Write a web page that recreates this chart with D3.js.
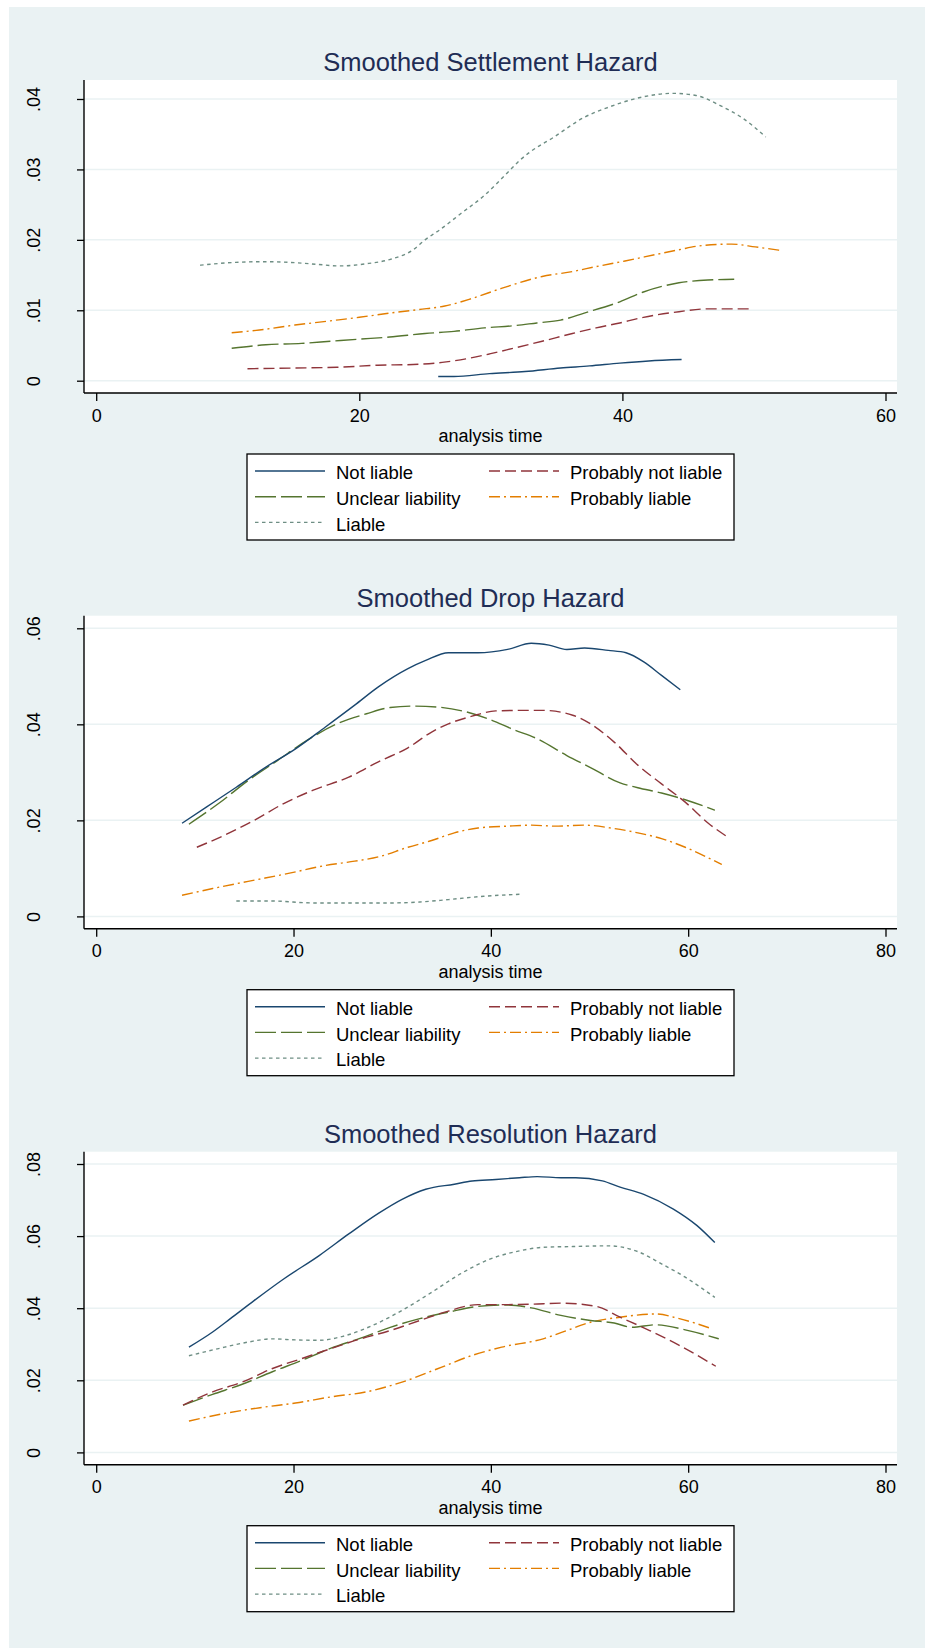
<!DOCTYPE html>
<html>
<head>
<meta charset="utf-8">
<script src="https://cdn.jsdelivr.net/npm/d3@7"></script>
<style>
  body { margin: 0; background: #fff; }
  svg { display: block; }
</style>
</head>
<body>
<script>
// series labels (legend order)
var seriesNames = ["Not liable", "Probably not liable", "Unclear liability", "Probably liable", "Liable"];

// Smoothed Settlement Hazard  [analysis time, hazard]
var settleNotLiable = [[26.0,.0006],[27.2,.0006],[29.9,.0010],[32.6,.0013],[35.3,.0018],[37.5,.0021],[39.8,.0025],[42.0,.0028],[44.5,.0030]];
var settleProbNotLiable = [[11.5,.0017],[15.1,.0018],[18.3,.0019],[21.4,.0022],[24.1,.0023],[26.3,.0026],[28.1,.0031],[29.9,.0038],[31.7,.0046],[33.9,.0056],[36.2,.0067],[38.0,.0075],[39.8,.0082],[41.6,.0090],[44.3,.0098],[46.5,.0102],[49.6,.0102]];
var settleUnclear = [[10.3,.0046],[12.9,.0051],[15.6,.0053],[17.8,.0056],[20.0,.0059],[22.3,.0062],[25.0,.0067],[27.2,.0070],[29.5,.0075],[31.7,.0078],[33.5,.0082],[35.3,.0086],[37.1,.0096],[39.8,.0112],[41.6,.0126],[44.3,.0139],[46.5,.0143],[48.5,.0144]];
var settleProbLiable = [[10.3,.0068],[12.4,.0072],[15.1,.0079],[17.8,.0085],[20.0,.0090],[22.3,.0096],[24.5,.0101],[26.5,.0106],[28.6,.0117],[30.8,.0131],[33.9,.0148],[36.2,.0155],[38.0,.0162],[40.2,.0170],[42.5,.0179],[44.3,.0186],[46.1,.0192],[48.3,.0194],[50.1,.0190],[52.0,.0185]];
var settleLiable = [[7.9,.0164],[10.6,.0168],[12.9,.0169],[15.6,.0167],[16.9,.0165],[18.5,.0163],[20.5,.0166],[22.3,.0172],[24.1,.0186],[25.0,.0200],[26.1,.0214],[27.7,.0237],[29.5,.0263],[31.3,.0296],[32.2,.0313],[33.0,.0325],[34.8,.0346],[37.1,.0374],[38.9,.0388],[41.1,.0401],[43.8,.0408],[45.6,.0405],[47.4,.0391],[49.2,.0372],[50.9,.0346]];

// Smoothed Drop Hazard
var dropNotLiable = [[8.7,.0194],[11.2,.0228],[14.2,.0269],[17.2,.0311],[20.2,.0349],[23.2,.0394],[26.2,.0440],[28.6,.0478],[31.6,.0516],[33.4,.0533],[35.7,.0549],[38.7,.0549],[41.7,.0556],[44.1,.0569],[45.9,.0565],[47.7,.0556],[49.5,.0559],[51.9,.0554],[53.7,.0549],[55.5,.0530],[57.3,.0502],[59.2,.0472]];
var dropProbNotLiable = [[10.2,.0144],[13.0,.0169],[16.0,.0200],[19.0,.0235],[22.0,.0263],[25.6,.0290],[28.6,.0322],[31.6,.0351],[34.0,.0384],[35.7,.0401],[38.1,.0417],[40.5,.0428],[42.9,.0429],[45.3,.0429],[48.3,.0419],[50.1,.0401],[52.5,.0363],[54.9,.0315],[57.3,.0276],[59.7,.0238],[62.1,.0193],[64.1,.0164]];
var dropUnclear = [[9.4,.0192],[12.4,.0235],[15.4,.0283],[18.4,.0325],[21.4,.0367],[24.4,.0401],[27.4,.0422],[29.8,.0435],[32.2,.0438],[34.6,.0436],[37.5,.0426],[39.9,.0410],[42.3,.0389],[44.7,.0370],[47.7,.0335],[50.1,.0310],[53.1,.0278],[54.9,.0268],[57.3,.0257],[59.7,.0243],[62.7,.0221]];
var dropProbLiable = [[8.7,.0044],[11.8,.0058],[15.4,.0073],[19.6,.0090],[23.2,.0106],[26.2,.0115],[28.6,.0124],[31.6,.0144],[34.0,.0158],[36.3,.0174],[38.7,.0184],[41.7,.0188],[44.1,.0190],[46.5,.0188],[49.5,.0190],[52.5,.0183],[54.9,.0174],[57.3,.0162],[59.7,.0144],[63.4,.0108]];
var dropLiable = [[14.2,.0032],[17.8,.0032],[22.0,.0028],[26.2,.0028],[29.8,.0028],[32.8,.0030],[35.7,.0035],[39.3,.0042],[42.9,.0046]];

// Smoothed Resolution Hazard
var resNotLiable = [[9.4,.0292],[11.8,.0334],[13.6,.0371],[16.0,.0421],[19.0,.0481],[22.6,.0546],[25.6,.0606],[28.6,.0663],[31.0,.0702],[33.4,.0730],[36.3,.0744],[38.1,.0753],[40.5,.0757],[42.9,.0762],[44.7,.0765],[47.1,.0762],[48.6,.0762],[51.3,.0753],[53.1,.0736],[55.5,.0716],[58.5,.0675],[60.9,.0629],[62.7,.0582]];
var resProbNotLiable = [[8.8,.0131],[11.8,.0168],[14.8,.0195],[17.8,.0232],[20.8,.0260],[23.8,.0288],[26.8,.0315],[29.8,.0338],[32.8,.0366],[35.7,.0392],[38.7,.0410],[41.7,.0410],[44.1,.0411],[47.1,.0414],[50.7,.0405],[53.1,.0375],[56.1,.0338],[59.1,.0297],[62.8,.0239]];
var resUnclear = [[8.8,.0131],[11.8,.0161],[14.8,.0189],[17.8,.0223],[20.8,.0255],[23.8,.0289],[26.8,.0317],[29.8,.0347],[32.8,.0371],[35.7,.0389],[38.7,.0405],[41.7,.0409],[44.1,.0401],[47.1,.0380],[50.1,.0366],[52.5,.0359],[54.3,.0347],[56.7,.0354],[59.7,.0340],[63.1,.0315]];
var resProbLiable = [[9.4,.0087],[13.0,.0108],[16.6,.0124],[20.2,.0137],[23.8,.0154],[27.4,.0168],[31.0,.0195],[34.6,.0232],[38.1,.0269],[41.1,.0292],[45.3,.0315],[47.7,.0338],[50.1,.0361],[53.1,.0375],[56.7,.0384],[59.1,.0371],[62.4,.0343]];
var resLiable = [[9.4,.0268],[12.4,.0288],[15.4,.0306],[17.8,.0315],[20.2,.0312],[22.6,.0311],[25.0,.0322],[28.0,.0352],[31.0,.0394],[34.0,.0444],[36.9,.0495],[39.9,.0536],[42.9,.0559],[45.3,.0569],[48.3,.0571],[51.9,.0573],[54.9,.0557],[57.3,.0523],[59.7,.0486],[62.7,.0430]];

// tick values and labels
var settleXTicks = [0, 20, 40, 60];
var settleYTicks = [0, .01, .02, .03, .04];
var settleYLabels = ["0", ".01", ".02", ".03", ".04"];
var dropXTicks = [0, 20, 40, 60, 80];
var dropYTicks = [0, .02, .04, .06];
var dropYLabels = ["0", ".02", ".04", ".06"];
var resXTicks = [0, 20, 40, 60, 80];
var resYTicks = [0, .02, .04, .06, .08];
var resYLabels = ["0", ".02", ".04", ".06", ".08"];

var titles = ["Smoothed Settlement Hazard", "Smoothed Drop Hazard", "Smoothed Resolution Hazard"];

// Stata s2color look
var colors = ["#1a476f", "#90353b", "#55752f", "#e37e00", "#6e8e84"];
var dashes = [null, "11,5", "21,5", "11,4,2,4", "3.5,3.5"];
var bg = "#eaf2f3";
var FONT = '"Liberation Sans", Arial, Helvetica, sans-serif';

var W = 925, H = 1648;
var svg = d3.select("body").append("svg")
  .attr("width", W)
  .attr("height", H)
  .style("font-family", FONT);

svg.append("rect")
  .attr("x", 9).attr("y", 7)
  .attr("width", W - 9).attr("height", H - 7)
  .attr("fill", bg);

var plotL = 84, plotR = 897, plotH = 313;

function drawChart(top, title, series, xMax, xTicks, yMax, yTicks, yLabels, yMaxPx) {
  var g = svg.append("g");

  var x = d3.scaleLinear().domain([0, xMax]).range([96.2, 885.5]);
  var y = d3.scaleLinear().domain([0, yMax]).range([top + 300.7, top + yMaxPx]);
  var bottom = top + plotH;

  g.append("rect")
    .attr("x", plotL).attr("y", top)
    .attr("width", plotR - plotL).attr("height", plotH)
    .attr("fill", "#fff");

  // grid
  g.selectAll(".grid")
    .data(yTicks)
    .enter().append("line")
    .attr("class", "grid")
    .attr("x1", plotL).attr("x2", plotR)
    .attr("y1", function(d) { return y(d); })
    .attr("y2", function(d) { return y(d); })
    .style("stroke", bg)
    .style("stroke-width", 1.5);

  // title
  g.append("text")
    .attr("x", (plotL + plotR) / 2)
    .attr("y", top - 9)
    .attr("text-anchor", "middle")
    .style("font-size", "25.5px")
    .style("fill", "#1f2d55")
    .text(title);

  // lines
  var line = d3.line()
    .x(function(d) { return x(d[0]); })
    .y(function(d) { return y(d[1]); })
    .curve(d3.curveMonotoneX);

  // draw in reverse so navy sits on top
  series.slice().reverse().forEach(function(s, j) {
    var i = series.length - 1 - j;
    g.append("path")
      .datum(s)
      .attr("d", line)
      .attr("fill", "none")
      .style("stroke", colors[i])
      .style("stroke-width", 1.4)
      .style("stroke-dasharray", dashes[i]);
  });

  // x axis
  var xAxis = d3.axisBottom(x)
    .tickValues(xTicks)
    .tickFormat(d3.format("d"))
    .tickSize(8)
    .tickSizeOuter(0);

  var gx = g.append("g")
    .attr("transform", "translate(0," + bottom + ")")
    .call(xAxis);
  gx.select(".domain").remove();
  gx.selectAll(".tick line").style("stroke", "#000").style("stroke-width", 1.3);
  gx.selectAll(".tick text")
    .attr("y", 28.5).attr("dy", 0)
    .style("font-family", FONT)
    .style("font-size", "18px")
    .style("fill", "#000");

  // y axis
  var yAxis = d3.axisLeft(y)
    .tickValues(yTicks)
    .tickFormat(function(d, i) { return yLabels[i]; })
    .tickSize(7)
    .tickSizeOuter(0);

  var gy = g.append("g")
    .attr("transform", "translate(" + plotL + ",0)")
    .call(yAxis);
  gy.select(".domain").remove();
  gy.selectAll(".tick line").style("stroke", "#000").style("stroke-width", 1.3);
  gy.selectAll(".tick text")
    .attr("x", 0).attr("y", 0).attr("dy", 0)
    .attr("transform", "translate(" + (39.5 - plotL) + ",0) rotate(-90)")
    .attr("text-anchor", "middle")
    .style("font-family", FONT)
    .style("font-size", "18px")
    .style("fill", "#000");

  // axis lines along the plot region edges
  g.append("line")
    .attr("x1", plotL).attr("x2", plotR)
    .attr("y1", bottom).attr("y2", bottom)
    .style("stroke", "#000").style("stroke-width", 1.4);
  g.append("line")
    .attr("x1", plotL).attr("x2", plotL)
    .attr("y1", top).attr("y2", bottom)
    .style("stroke", "#000").style("stroke-width", 1.4);

  g.append("text")
    .attr("x", (plotL + plotR) / 2)
    .attr("y", bottom + 49)
    .attr("text-anchor", "middle")
    .style("font-size", "18px")
    .text("analysis time");

  // legend
  var lt = bottom + 61;
  var lg = g.append("g").attr("transform", "translate(247," + lt + ")");
  lg.append("rect")
    .attr("width", 487).attr("height", 86)
    .attr("fill", "#fff")
    .style("stroke", "#000")
    .style("stroke-width", 1.3);

  var items = lg.selectAll(".item")
    .data(seriesNames)
    .enter().append("g")
    .attr("class", "item")
    .attr("transform", function(d, i) {
      return "translate(" + (i % 2 ? 242 : 8) + "," + (17 + Math.floor(i / 2) * 25.7) + ")";
    });

  items.append("line")
    .attr("x1", 0).attr("x2", 70)
    .style("stroke", function(d, i) { return colors[i]; })
    .style("stroke-width", 1.4)
    .style("stroke-dasharray", function(d, i) { return dashes[i]; });

  items.append("text")
    .attr("x", 81)
    .attr("y", 8.3)
    .style("font-size", "18.5px")
    .text(function(d) { return d; });
}

drawChart(80, titles[0],
  [settleNotLiable, settleProbNotLiable, settleUnclear, settleProbLiable, settleLiable],
  60, settleXTicks, .04, settleYTicks, settleYLabels, 19);

drawChart(615.7, titles[1],
  [dropNotLiable, dropProbNotLiable, dropUnclear, dropProbLiable, dropLiable],
  80, dropXTicks, .06, dropYTicks, dropYLabels, 12.6);

drawChart(1151.7, titles[2],
  [resNotLiable, resProbNotLiable, resUnclear, resProbLiable, resLiable],
  80, resXTicks, .08, resYTicks, resYLabels, 12.3);
</script>
</body>
</html>
